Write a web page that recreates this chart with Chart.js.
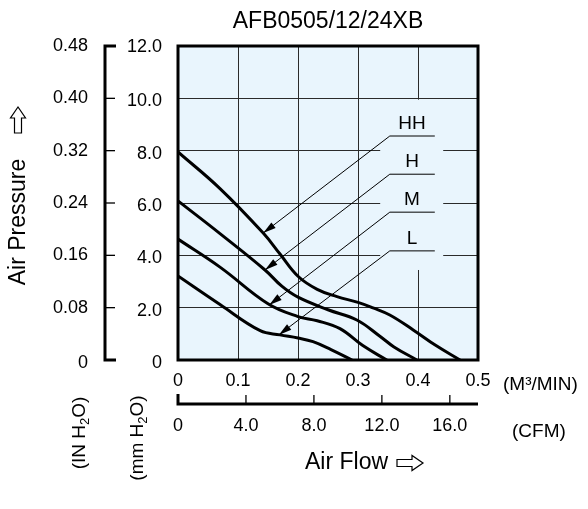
<!DOCTYPE html>
<html>
<head>
<meta charset="utf-8">
<script src="https://cdn.jsdelivr.net/npm/chart.js@4/dist/chart.umd.min.js"></script>
<style>
html,body{margin:0;padding:0;background:#fff;}
canvas{display:block;}
</style>
</head>
<body>
<canvas id="c" width="588" height="509"></canvas>
<script>
// ---------- data ----------
const chartTitle = 'AFB0505/12/24XB';
const seriesNames = ['HH', 'H', 'M', 'L'];

const flowHH = [0, 0.07, 0.142, 0.17, 0.2, 0.232, 0.265, 0.3, 0.325, 0.353, 0.392, 0.43, 0.47];
const pressureHH = [7.95, 6.55, 4.85, 4.05, 3.2, 2.7, 2.42, 2.2, 1.99, 1.72, 1.15, 0.55, 0];

const flowH = [0, 0.07, 0.145, 0.173, 0.2, 0.25, 0.298, 0.337, 0.36, 0.398];
const pressureH = [6.08, 4.83, 3.44, 2.82, 2.4, 1.92, 1.53, 0.9, 0.5, 0];

const flowM = [0, 0.07, 0.15, 0.2, 0.232, 0.27, 0.308, 0.348];
const pressureM = [4.62, 3.55, 2.15, 1.66, 1.5, 1.2, 0.55, 0];

const flowL = [0, 0.07, 0.137, 0.17, 0.2, 0.225, 0.255, 0.29];
const pressureL = [3.21, 2.12, 1.12, 0.96, 0.84, 0.7, 0.4, 0];

const flowTicks = [0, 0.1, 0.2, 0.3, 0.4, 0.5];
const flowTickLabels = ['0', '0.1', '0.2', '0.3', '0.4', '0.5'];
const cfmTicks = [0, 4, 8, 12, 16];
const cfmTickLabels = ['0', '4.0', '8.0', '12.0', '16.0'];
const mmTicks = [0, 2, 4, 6, 8, 10, 12];
const mmTickLabels = ['0', '2.0', '4.0', '6.0', '8.0', '10.0', '12.0'];
const inTickLabels = ['0', '0.08', '0.16', '0.24', '0.32', '0.40', '0.48'];
const CFM_PER_M3MIN = 35.3147;

// ---------- annotation layout (data units) ----------
const labelTextX = 0.39;
const labelTextY = [9.02, 7.57, 6.11, 4.62];
const labelLineX = [0.353, 0.428];
const labelLineY = [8.56, 7.1, 5.65, 4.17];
const arrowTipX = [0.142, 0.145, 0.152, 0.168];
const arrowTipY = [4.85, 3.44, 2.10, 0.96];
const gapBox = {x0: 0.337, x1: 0.442, y0: 3.44, y1: 9.95};

const FONT = "'Liberation Sans', Arial, sans-serif";
const BG = '#e9f5fd';

function pts(xs, ys) { return xs.map((x, i) => ({x: x, y: ys[i]})); }

function drawRich(ctx, segs, x, y, align) {
  let total = 0;
  segs.forEach(s => { ctx.font = s[1] + 'px ' + FONT; total += ctx.measureText(s[0]).width; });
  let cx = align === 'center' ? x - total / 2 : x;
  segs.forEach(s => {
    ctx.font = s[1] + 'px ' + FONT;
    ctx.textAlign = 'left';
    ctx.fillText(s[0], cx, y + s[2]);
    cx += ctx.measureText(s[0]).width;
  });
}

function outlineArrow(ctx, cx, cy, dir, len, headW, stemW, headL) {
  ctx.save();
  ctx.translate(cx, cy);
  if (dir === 'up') ctx.rotate(-Math.PI / 2);
  const h = len / 2;
  ctx.beginPath();
  ctx.moveTo(-h, -stemW / 2);
  ctx.lineTo(h - headL, -stemW / 2);
  ctx.lineTo(h - headL, -headW / 2);
  ctx.lineTo(h, 0);
  ctx.lineTo(h - headL, headW / 2);
  ctx.lineTo(h - headL, stemW / 2);
  ctx.lineTo(-h, stemW / 2);
  ctx.closePath();
  ctx.lineWidth = 1.2;
  ctx.strokeStyle = '#000';
  ctx.stroke();
  ctx.restore();
}

const customPlugin = {
  id: 'custom',
  beforeDraw(chart) {
    const a = chart.chartArea, ctx = chart.ctx;
    ctx.save();
    ctx.fillStyle = BG;
    ctx.fillRect(a.left, a.top, a.right - a.left, a.bottom - a.top);
    ctx.restore();
  },
  beforeDatasetsDraw(chart) {
    const ctx = chart.ctx, xs = chart.scales.x, ys = chart.scales.y;
    ctx.save();
    ctx.fillStyle = BG;
    const x0 = xs.getPixelForValue(gapBox.x0), x1 = xs.getPixelForValue(gapBox.x1);
    const y0 = ys.getPixelForValue(gapBox.y1), y1 = ys.getPixelForValue(gapBox.y0);
    ctx.fillRect(x0, y0, x1 - x0, y1 - y0);
    ctx.restore();
  },
  afterDraw(chart) {
    const ctx = chart.ctx, a = chart.chartArea, xs = chart.scales.x, ys = chart.scales.y;
    ctx.save();
    ctx.strokeStyle = '#000';
    ctx.lineWidth = 3;
    ctx.strokeRect(a.left, a.top, a.right - a.left, a.bottom - a.top);

    ctx.fillStyle = '#000';
    seriesNames.forEach((name, i) => {
      const ux0 = xs.getPixelForValue(labelLineX[0]), ux1 = xs.getPixelForValue(labelLineX[1]);
      const uy = ys.getPixelForValue(labelLineY[i]);
      const tx = xs.getPixelForValue(arrowTipX[i]), ty = ys.getPixelForValue(arrowTipY[i]);
      ctx.lineWidth = 1;
      ctx.beginPath();
      ctx.moveTo(ux1, uy); ctx.lineTo(ux0, uy); ctx.lineTo(tx, ty);
      ctx.stroke();
      const ang = Math.atan2(ty - uy, tx - ux0);
      const L = 13, W = 3.5;
      ctx.save();
      ctx.translate(tx, ty); ctx.rotate(ang);
      ctx.beginPath();
      ctx.moveTo(0, 0); ctx.lineTo(-L, -W); ctx.lineTo(-L, W); ctx.closePath();
      ctx.fill();
      ctx.restore();
      ctx.font = '19px ' + FONT;
      ctx.textAlign = 'center'; ctx.textBaseline = 'middle';
      ctx.fillText(name, xs.getPixelForValue(labelTextX), ys.getPixelForValue(labelTextY[i]));
    });

    ctx.font = '23px ' + FONT;
    ctx.textAlign = 'center'; ctx.textBaseline = 'middle';
    ctx.fillText(chartTitle, (a.left + a.right) / 2, 22);

    const bx = 105;
    ctx.lineWidth = 3;
    ctx.beginPath();
    ctx.moveTo(bx + 11, ys.getPixelForValue(12));
    ctx.lineTo(bx, ys.getPixelForValue(12));
    ctx.lineTo(bx, ys.getPixelForValue(0));
    ctx.lineTo(bx + 11, ys.getPixelForValue(0));
    ctx.stroke();
    ctx.lineWidth = 1.3;
    mmTicks.forEach((v, i) => {
      const py = ys.getPixelForValue(v);
      if (i > 0 && i < mmTicks.length - 1) {
        ctx.beginPath(); ctx.moveTo(bx, py); ctx.lineTo(bx + 10, py); ctx.stroke();
      }
      ctx.font = '18px ' + FONT;
      ctx.textAlign = 'right'; ctx.textBaseline = 'middle';
      ctx.fillText(mmTickLabels[i], 162, py + (i === mmTicks.length - 1 ? 1 : 3));
      ctx.fillText(inTickLabels[i], 88, py + (i === 0 ? 3 : 0));
    });

    ctx.font = '18px ' + FONT;
    ctx.textAlign = 'center'; ctx.textBaseline = 'middle';
    flowTicks.forEach((v, i) => ctx.fillText(flowTickLabels[i], xs.getPixelForValue(v), 381));
    ctx.font = '19px ' + FONT;
    ctx.textAlign = 'left';
    ctx.fillText('(M\u00B3/MIN)', 503, 385);
    ctx.fillText('(CFM)', 512, 432);

    const cy = 404;
    ctx.lineWidth = 3;
    ctx.beginPath();
    ctx.moveTo(a.left, cy - 10); ctx.lineTo(a.left, cy); ctx.lineTo(a.right, cy);
    ctx.stroke();
    ctx.lineWidth = 1.3;
    cfmTicks.forEach((v, i) => {
      const px = xs.getPixelForValue(v / CFM_PER_M3MIN);
      if (i > 0) { ctx.beginPath(); ctx.moveTo(px, cy); ctx.lineTo(px, cy - 9); ctx.stroke(); }
      ctx.font = '18px ' + FONT;
      ctx.textAlign = 'center'; ctx.textBaseline = 'middle';
      ctx.fillText(cfmTickLabels[i], px, 426);
    });

    ctx.font = '23px ' + FONT;
    ctx.textAlign = 'left'; ctx.textBaseline = 'middle';
    ctx.fillText('Air Flow', 305, 463);
    outlineArrow(ctx, 410, 463, 'right', 26, 15, 7, 11);

    ctx.save();
    ctx.translate(19, 222); ctx.rotate(-Math.PI / 2);
    ctx.font = '23px ' + FONT; ctx.textAlign = 'center'; ctx.textBaseline = 'middle';
    ctx.fillText('Air Pressure', 0, 0);
    ctx.restore();
    outlineArrow(ctx, 18, 120, 'up', 26, 15, 7, 11);

    ctx.textBaseline = 'middle';
    ctx.save();
    ctx.translate(80, 433); ctx.rotate(-Math.PI / 2);
    drawRich(ctx, [['(IN H', 19, 0], ['2', 13, 5], ['O)', 19, 0]], 0, 0, 'center');
    ctx.restore();
    ctx.save();
    ctx.translate(138, 438); ctx.rotate(-Math.PI / 2);
    drawRich(ctx, [['(mm H', 19, 0], ['2', 13, 5], ['O)', 19, 0]], 0, 0, 'center');
    ctx.restore();

    ctx.restore();
  }
};

const ds = (xs, ys, name) => ({
  label: name,
  data: pts(xs, ys),
  borderColor: '#000',
  borderWidth: 3,
  pointRadius: 0,
  fill: false,
  tension: 0.4,
  borderCapStyle: 'round',
  borderJoinStyle: 'round'
});

new Chart(document.getElementById('c'), {
  type: 'line',
  data: {
    datasets: [
      ds(flowHH, pressureHH, 'HH'),
      ds(flowH, pressureH, 'H'),
      ds(flowM, pressureM, 'M'),
      ds(flowL, pressureL, 'L')
    ]
  },
  options: {
    responsive: false,
    devicePixelRatio: 1,
    animation: false,
    layout: {padding: {left: 178, top: 46, right: 110, bottom: 149}},
    plugins: {legend: {display: false}, tooltip: {enabled: false}, title: {display: false}},
    scales: {
      x: {
        type: 'linear', min: 0, max: 0.5,
        ticks: {display: false, stepSize: 0.1},
        grid: {color: '#2a2a2a', lineWidth: 1, drawTicks: false},
        border: {display: false},
        afterFit(s) { s.height = 0; }
      },
      y: {
        type: 'linear', min: 0, max: 12,
        ticks: {display: false, stepSize: 2},
        grid: {color: '#2a2a2a', lineWidth: 1, drawTicks: false},
        border: {display: false},
        afterFit(s) { s.width = 0; }
      }
    }
  },
  plugins: [customPlugin]
});
</script>
</body>
</html>
